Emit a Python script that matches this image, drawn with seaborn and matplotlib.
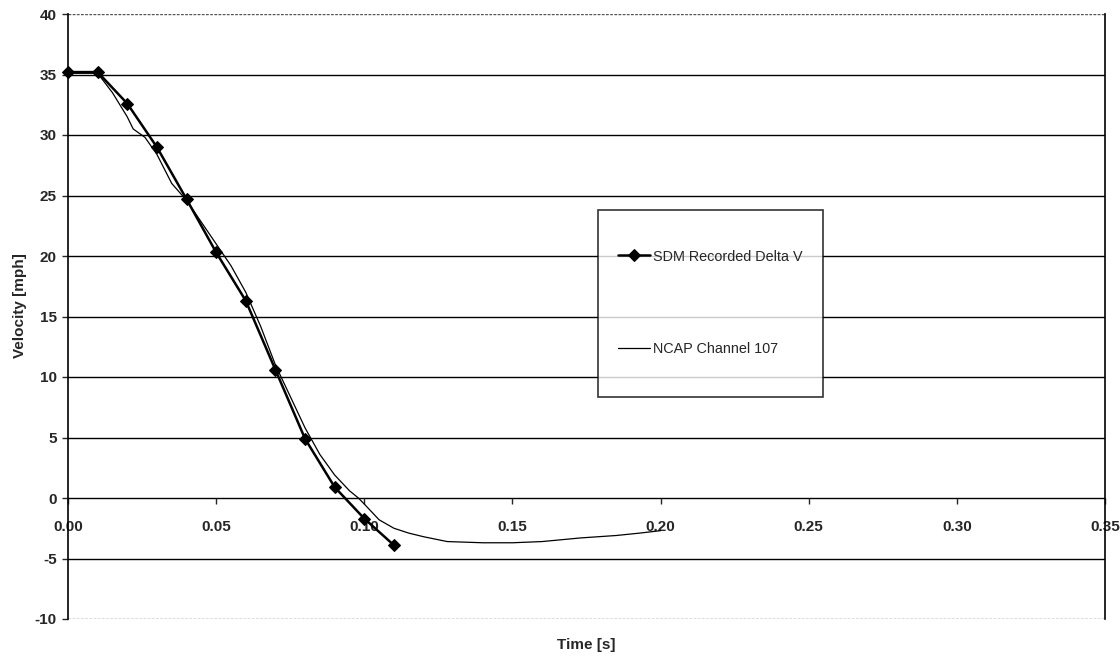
import matplotlib
matplotlib.use("Agg")
import matplotlib.pyplot as plt
import seaborn as sns
import pandas as pd
import numpy as np
from matplotlib.legend_handler import HandlerLine2D

sdm_time = [0.00, 0.01, 0.02, 0.03, 0.04, 0.05, 0.06, 0.07, 0.08, 0.09, 0.10, 0.11]
sdm_vel = [35.2, 35.2, 32.6, 29.0, 24.7, 20.3, 16.3, 10.6, 4.9, 0.9, -1.7, -3.9]

ncap_time = [0.000, 0.010, 0.015, 0.020, 0.022, 0.026, 0.030, 0.035, 0.040, 0.045, 0.050,
             0.055, 0.060, 0.065, 0.070, 0.075, 0.080, 0.085, 0.090, 0.095, 0.098,
             0.100, 0.105, 0.110, 0.115, 0.120, 0.128, 0.140, 0.150, 0.160, 0.173,
             0.185, 0.193, 0.200]
ncap_vel = [35.1, 35.1, 33.5, 31.5, 30.5, 29.8, 28.4, 26.0, 24.6, 22.8, 21.0,
            19.2, 17.0, 14.2, 11.0, 8.4, 5.8, 3.6, 1.9, 0.6, 0.0,
            -0.5, -1.8, -2.5, -2.9, -3.2, -3.6, -3.7, -3.7, -3.6, -3.3,
            -3.1, -2.9, -2.7]

y_ticks = [-10, -5, 0, 5, 10, 15, 20, 25, 30, 35, 40]
x_ticks = [0.00, 0.05, 0.10, 0.15, 0.20, 0.25, 0.30, 0.35]


class ShiftedLineHandler(HandlerLine2D):
    """Line handler that moves the sample line down to the text's middle."""
    def __init__(self, shift=0.0, **kw):
        super().__init__(**kw)
        self._shift = shift

    def create_artists(self, legend, orig_handle, xdescent, ydescent, width,
                       height, fontsize, trans):
        arts = super().create_artists(legend, orig_handle, xdescent, ydescent,
                                      width, height, fontsize, trans)
        for a in arts:
            a.set_ydata(np.asarray(a.get_ydata(), dtype=float) - self._shift)
        return arts


sns.set_style("white")
plt.rcParams['font.family'] = ['Liberation Sans', 'DejaVu Sans']

fig = plt.figure(figsize=(11.2, 6.62), dpi=100)
ax = fig.add_axes([68/1120, 1 - 619/662, (1105-68)/1120, (619-14)/662])

df_sdm = pd.DataFrame({"t": sdm_time, "v": sdm_vel})
df_ncap = pd.DataFrame({"t": ncap_time, "v": ncap_vel})

for y in y_ticks:
    if y in (40, -10):
        ax.axhline(y, color="#555555", lw=1.0, ls=(0, (2, 1)), zorder=0)
    else:
        ax.axhline(y, color="black", lw=1.0, zorder=0)

sns.lineplot(data=df_sdm, x="t", y="v", ax=ax, color="black", lw=1.8,
             marker="D", markersize=6, markeredgecolor="black",
             label="SDM Recorded Delta V", zorder=3, clip_on=False)
sns.lineplot(data=df_ncap, x="t", y="v", ax=ax, color="black", lw=0.9,
             label="NCAP Channel 107", zorder=2)

ax.set_xlim(0, 0.35)
ax.set_ylim(-10, 40)
ax.set_yticks(y_ticks)
ax.set_yticklabels([str(v) for v in y_ticks], fontsize=11, fontweight="bold")

# x axis crosses at y=0 (Excel style)
ax.spines["bottom"].set_position(("data", 0))
ax.spines["bottom"].set_visible(False)
ax.spines["top"].set_visible(False)
ax.spines["left"].set_color("black")
ax.spines["left"].set_linewidth(1.2)
ax.spines["right"].set_color("black")
ax.spines["right"].set_linewidth(1.2)
ax.set_xticks(x_ticks)
ax.set_xticklabels([f"{v:.2f}" for v in x_ticks], fontsize=11, fontweight="bold")
ax.tick_params(axis="x", direction="out", length=4, width=1, pad=12, bottom=True)
ax.tick_params(axis="y", direction="out", length=4, width=1, left=True, pad=4)

ax.set_xlabel("")
ax.set_ylabel("")
fig.text(20/1120, 1 - 306/662, "Velocity [mph]", rotation=90, ha="center", va="center",
         fontsize=11, fontweight="bold")
fig.text((68+1105)/2/1120, 1 - 645/662, "Time [s]", ha="center", va="center",
         fontsize=11, fontweight="bold")

handles, labels = ax.get_legend_handles_labels()
hmap = {h: ShiftedLineHandler(shift=7.2) for h in handles}
leg = ax.legend(handles, labels, handler_map=hmap,
                loc="upper left", bbox_to_anchor=(0.511, 0.676), frameon=True,
                fancybox=False, edgecolor="black", fontsize=10.4,
                labelspacing=2.65, borderpad=1.4, handleheight=5.4,
                handlelength=2.2, handletextpad=0.2, borderaxespad=0)
leg.get_frame().set_linewidth(1.2)

fig.savefig("out.png", dpi=100)
